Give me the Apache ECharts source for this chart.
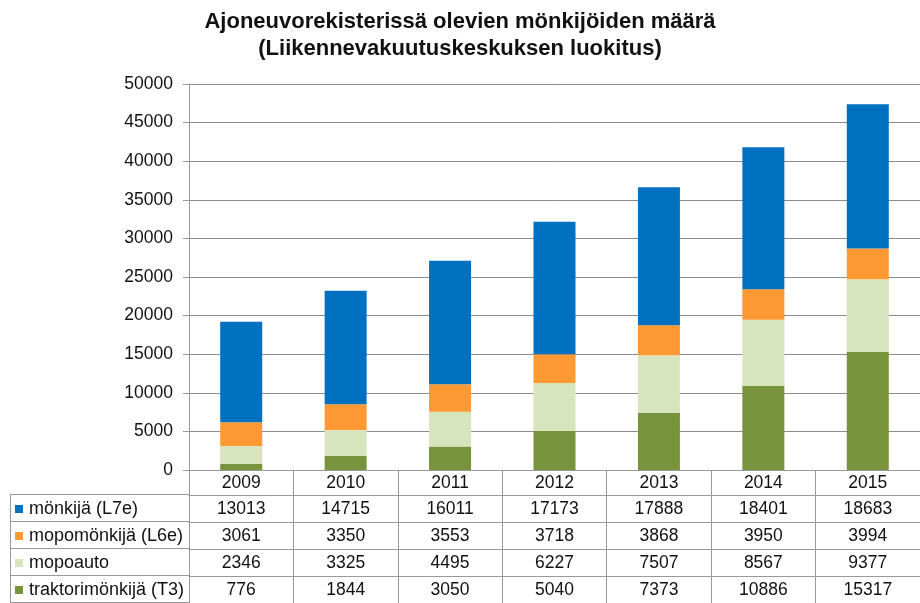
<!DOCTYPE html>
<html>
<head>
<meta charset="utf-8">
<script src="https://cdn.jsdelivr.net/npm/echarts@6/dist/echarts.min.js"></script>
<style>html,body{margin:0;padding:0;background:#fff}#c{width:920px;height:603px}</style>
</head>
<body>
<div id="c"></div>
<script>
var years = ['2009','2010','2011','2012','2013','2014','2015'];
var monkija = [13013,14715,16011,17173,17888,18401,18683];
var mopomonkija = [3061,3350,3553,3718,3868,3950,3994];
var mopoauto = [2346,3325,4495,6227,7507,8567,9377];
var traktorimonkija = [776,1844,3050,5040,7373,10886,15317];
var seriesNames = ['mönkijä (L7e)','mopomönkijä (L6e)','mopoauto','traktorimönkijä (T3)'];
var yTicks = {min:0, max:50000, interval:5000};

var colors = {
  'mönkijä (L7e)':'#0070C0',
  'mopomönkijä (L6e)':'#FF9933',
  'mopoauto':'#D7E4BD',
  'traktorimönkijä (T3)':'#77933C'
};
var rows = [monkija, mopomonkija, mopoauto, traktorimonkija];
var FONT = 'Liberation Sans, Arial, sans-serif';
var lineColor = '#999';
var FS = 17.5;

var GL = 189, GT = 84, GH = 386, GW = 742;
var ROW = 27;

var xAxes = [{
  type:'category', data: years, gridIndex:0, position:'bottom',
  axisLine:{show:true, lineStyle:{color:lineColor}},
  axisTick:{show:true, length:133, alignWithLabel:false, lineStyle:{color:lineColor}},
  axisLabel:{fontSize:FS, fontFamily:FONT, color:'#111', margin:4}
}];
rows.forEach(function(r, i){
  xAxes.push({
    type:'category', data: r.map(String), gridIndex:0, position:'bottom',
    offset: 25 + i*ROW,
    axisLine:{show:true, lineStyle:{color:lineColor}},
    axisTick:{show:false},
    axisLabel:{fontSize:FS, fontFamily:FONT, color:'#111', margin:5, interval:0}
  });
});

var stackOrder = [3,2,1,0];
var series = stackOrder.map(function(i){
  return {
    name: seriesNames[i], type:'bar', stack:'total', xAxisIndex:0,
    barWidth:42, data: rows[i],
    itemStyle:{color: colors[seriesNames[i]]},
    emphasis:{disabled:true}
  };
});

var legends = seriesNames.map(function(n, i){
  return {
    data:[n], orient:'horizontal', left:15, top: 500 + i*ROW, padding:0,
    icon:'rect', itemWidth:8, itemHeight:8, itemGap:0,
    selectedMode:false,
    textStyle:{fontFamily:FONT, fontSize:18, color:'#111', padding:[0,0,0,1]}
  };
});

var lines = [];
[495,522,549,576,603].forEach(function(y){
  lines.push({type:'line', shape:{x1:10,y1:y-0.5,x2:GL,y2:y-0.5}, style:{stroke:lineColor, lineWidth:1}});
});
lines.push({type:'line', shape:{x1:10.5,y1:494.5,x2:10.5,y2:603}, style:{stroke:lineColor, lineWidth:1}});

var chart = echarts.init(document.getElementById('c'), null, {renderer:'canvas'});
chart.setOption({
  animation:false,
  backgroundColor:'#fff',
  title:{
    text:'Ajoneuvorekisterissä olevien mönkijöiden määrä\n(Liikennevakuutuskeskuksen luokitus)',
    left:'center', top:3,
    textStyle:{fontFamily:FONT, fontWeight:'bold', fontSize:22, color:'#111', lineHeight:27}
  },
  legend: legends,
  grid:{left:GL, top:GT, width:GW, height:GH, containLabel:false},
  xAxis: xAxes,
  yAxis:{
    type:'value', min:yTicks.min, max:yTicks.max, interval:yTicks.interval,
    axisLine:{show:true, lineStyle:{color:lineColor}},
    axisTick:{show:true, length:6, lineStyle:{color:lineColor}},
    splitLine:{show:true, lineStyle:{color:'#8c8c8c'}},
    axisLabel:{fontSize:FS, fontFamily:FONT, color:'#111', margin:16,
      formatter:function(v){return String(v);}}
  },
  series: series,
  graphic: lines
});
</script>
</body>
</html>
